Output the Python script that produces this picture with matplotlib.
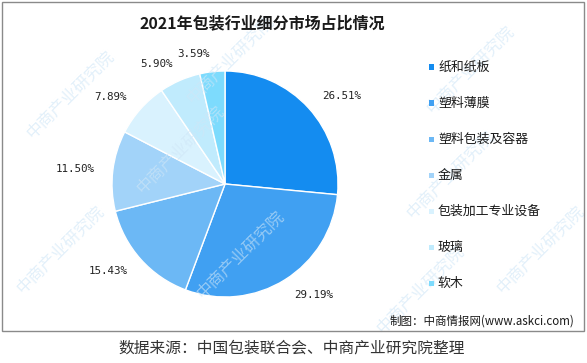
import matplotlib
matplotlib.use("Agg")
import matplotlib.pyplot as plt
import numpy as np
from matplotlib.patches import Rectangle

plt.rcParams['font.family'] = ['Noto Sans CJK SC', 'DejaVu Sans']

title = "2021年包装行业细分市场占比情况"
categories = ["纸和纸板", "塑料薄膜", "塑料包装及容器", "金属", "包装加工专业设备", "玻璃", "软木"]
values = [26.51, 29.19, 15.43, 11.50, 7.89, 5.90, 3.59]
colors = ["#148cf0", "#40a0f2", "#6cb8f5", "#a2d3f9", "#d9f2fe", "#c0ebfd", "#7ddbfd"]
source_text = "数据来源：中国包装联合会、中商产业研究院整理"
credit_text = "制图：中商情报网(www.askci.com)"

W, H = 587, 363
fig = plt.figure(figsize=(W / 100, H / 100), dpi=100)

def fx(px):
    return px / W

def fy(py):
    return 1 - py / H

# border box
fig.patches.append(Rectangle((fx(1.5), fy(331)), fx(584) - fx(1.5), fy(1.5) - fy(331),
                             transform=fig.transFigure, fill=False, edgecolor="#8a8a8a",
                             linewidth=1.0))

# watermarks
wm_pos = [(70, 95), (230, 60), (470, 70), (180, 150), (450, 175), (60, 250),
          (240, 255), (420, 290), (540, 250)]
for x, y in wm_pos:
    fig.text(fx(x), fy(y), "中商产业研究院", rotation=45, ha="center", va="center",
             fontsize=12, color="#cfe6f7", alpha=0.6, zorder=0)

# pie
cx, cy, r = 225, 184, 113
ax = fig.add_axes([fx(cx - r), fy(cy + r), 2 * r / W, 2 * r / H])
wedges, _ = ax.pie(values, colors=colors, startangle=90, counterclock=False,
                   wedgeprops=dict(edgecolor="white", linewidth=1.0), radius=1.0)
ax.set_xlim(-1, 1)
ax.set_ylim(-1, 1)
ax.set_aspect("auto")
ax.axis("off")

total = sum(values)
cum = 0
for v in values:
    mid = 90 - (cum + v / 2) / total * 360
    cum += v
    a = np.deg2rad(mid)
    lx, ly = 1.16 * np.cos(a), 1.16 * np.sin(a)
    ha = "left" if np.cos(a) > 0 else "right"
    ax.text(lx, ly, f"{v:.2f}%", ha=ha, va="center", fontsize=7.8,
            family="DejaVu Sans Mono", color="#222222", clip_on=False)

# title
fig.text(fx(262), fy(23), title, ha="center", va="center", fontsize=11.5,
         fontweight="bold", color="#1a1a1a")

# legend
leg_y = [67, 103, 139, 175, 211, 247, 283]
for cat, col, y in zip(categories, colors, leg_y):
    fig.patches.append(Rectangle((fx(429), fy(y + 2.5)), fx(5), 5 / H,
                                 transform=fig.transFigure, facecolor=col, edgecolor="none"))
    fig.text(fx(438), fy(y), cat, ha="left", va="center", fontsize=9.3, color="#1a1a1a")

fig.text(fx(574), fy(321), credit_text, ha="right", va="center", fontsize=8.3, color="#1a1a1a")
fig.text(fx(292), fy(348), source_text, ha="center", va="center", fontsize=11.3, color="#333333")

fig.savefig("out.png", dpi=100)
